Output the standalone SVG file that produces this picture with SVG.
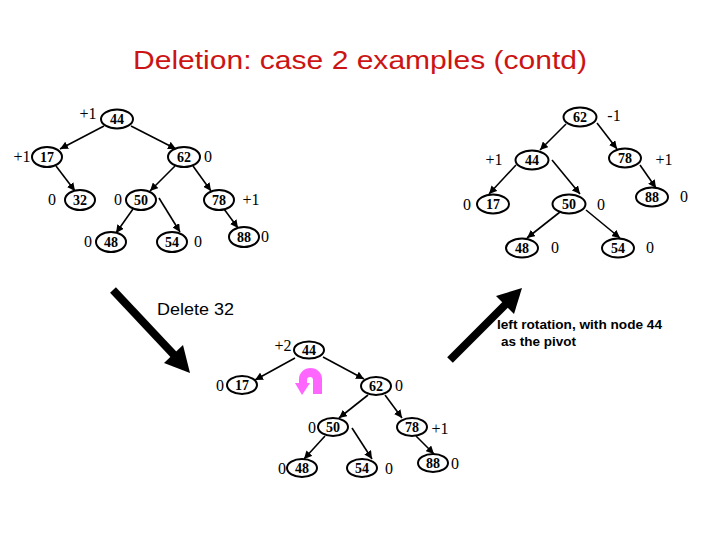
<svg xmlns="http://www.w3.org/2000/svg" width="720" height="540" viewBox="0 0 720 540">
<style>
.n ellipse{fill:#fff;stroke:#000;stroke-width:2}
.n text{font-family:"Liberation Serif","Times New Roman",serif;font-weight:bold;font-size:14px;text-anchor:middle}
.b{font-family:"Liberation Serif","Times New Roman",serif;font-size:16px;text-anchor:middle;fill:#000}
.e line{stroke:#000;stroke-width:1.6}
.e line.big{stroke:#000;stroke-width:8}
</style>
<defs>
<marker id="ah" markerUnits="userSpaceOnUse" markerWidth="9" markerHeight="8" refX="8" refY="4" orient="auto">
<path d="M0,0 L8,4 L0,8 Z" fill="#000"/>
</marker>
</defs>
<rect width="720" height="540" fill="#fff"/>
<text x="360" y="69" font-family="Liberation Sans,Arial,sans-serif" font-size="26.5" fill="#cc1414" text-anchor="middle" textLength="454" lengthAdjust="spacingAndGlyphs">Deletion: case 2 examples (contd)</text>

<!-- connectors -->
<g id="connectors" class="e">
<!-- top-left tree -->
<line x1="104" y1="126" x2="60" y2="149" marker-end="url(#ah)"/>
<line x1="131" y1="126" x2="176" y2="149" marker-end="url(#ah)"/>
<line x1="56" y1="166" x2="75" y2="191" marker-end="url(#ah)"/>
<line x1="175" y1="166" x2="150" y2="191" marker-end="url(#ah)"/>
<line x1="193" y1="166" x2="211" y2="191" marker-end="url(#ah)"/>
<line x1="133" y1="209" x2="116" y2="233" marker-end="url(#ah)"/>
<line x1="159" y1="198" x2="180" y2="232" marker-end="url(#ah)"/>
<line x1="224" y1="209" x2="238" y2="228" marker-end="url(#ah)"/>
<!-- top-right tree -->
<line x1="566" y1="124" x2="540" y2="150" marker-end="url(#ah)"/>
<line x1="597" y1="123" x2="617" y2="149" marker-end="url(#ah)"/>
<line x1="516" y1="165" x2="489" y2="194" marker-end="url(#ah)"/>
<line x1="552" y1="160" x2="580" y2="194" marker-end="url(#ah)"/>
<line x1="640" y1="165" x2="656" y2="188" marker-end="url(#ah)"/>
<line x1="560" y1="212" x2="527" y2="238" marker-end="url(#ah)"/>
<line x1="586" y1="210" x2="620" y2="238" marker-end="url(#ah)"/>
<!-- bottom tree -->
<line x1="295" y1="358" x2="255" y2="380" marker-end="url(#ah)"/>
<line x1="323" y1="357" x2="364" y2="379" marker-end="url(#ah)"/>
<line x1="368" y1="395" x2="339" y2="418" marker-end="url(#ah)"/>
<line x1="385" y1="395" x2="402" y2="418" marker-end="url(#ah)"/>
<line x1="325" y1="436" x2="304" y2="459" marker-end="url(#ah)"/>
<line x1="352" y1="428" x2="372" y2="459" marker-end="url(#ah)"/>
<line x1="416" y1="436" x2="434" y2="454" marker-end="url(#ah)"/>
<!-- big arrows -->
<line class="big" x1="113" y1="290" x2="175" y2="356"/>
<polygon points="190,373 164,363 183,345" fill="#000"/>
<line class="big" x1="450" y1="360" x2="507" y2="303"/>
<polygon points="522,288 514,314 496,296" fill="#000"/>
</g>

<!-- top-left tree nodes -->
<g id="tl44" class="n"><ellipse cx="117" cy="119" rx="16" ry="9.5"/><text x="117" y="124">44</text></g>
<g id="tl17" class="n"><ellipse cx="47" cy="157" rx="15" ry="10"/><text x="47" y="162">17</text></g>
<g id="tl62" class="n"><ellipse cx="184" cy="157" rx="16" ry="10"/><text x="184" y="162">62</text></g>
<g id="tl32" class="n"><ellipse cx="80" cy="200" rx="15" ry="10"/><text x="80" y="205">32</text></g>
<g id="tl50" class="n"><ellipse cx="141" cy="200" rx="15" ry="10"/><text x="141" y="205">50</text></g>
<g id="tl78" class="n"><ellipse cx="219" cy="200" rx="15" ry="10"/><text x="219" y="205">78</text></g>
<g id="tl48" class="n"><ellipse cx="111" cy="242" rx="15" ry="10"/><text x="111" y="247">48</text></g>
<g id="tl54" class="n"><ellipse cx="172" cy="242" rx="15" ry="10"/><text x="172" y="247">54</text></g>
<g id="tl88" class="n"><ellipse cx="244" cy="237" rx="15" ry="10"/><text x="244" y="242">88</text></g>
<g id="tl-bal">
<text class="b" x="88" y="119">+1</text>
<text class="b" x="22" y="162">+1</text>
<text class="b" x="208" y="162">0</text>
<text class="b" x="52" y="205">0</text>
<text class="b" x="118" y="205">0</text>
<text class="b" x="251" y="205">+1</text>
<text class="b" x="88" y="247">0</text>
<text class="b" x="198" y="247">0</text>
<text class="b" x="265" y="242">0</text>
</g>

<!-- top-right tree nodes -->
<g id="tr62" class="n"><ellipse cx="580" cy="117" rx="16.5" ry="9.5"/><text x="580" y="122">62</text></g>
<g id="tr44" class="n"><ellipse cx="532" cy="160" rx="16.5" ry="9.5"/><text x="532" y="165">44</text></g>
<g id="tr78" class="n"><ellipse cx="625" cy="158" rx="16" ry="9.5"/><text x="625" y="163">78</text></g>
<g id="tr17" class="n"><ellipse cx="493" cy="204" rx="16" ry="9.5"/><text x="493" y="209">17</text></g>
<g id="tr50" class="n"><ellipse cx="569" cy="204" rx="16.5" ry="9.5"/><text x="569" y="209">50</text></g>
<g id="tr88" class="n"><ellipse cx="652" cy="197" rx="16" ry="9.5"/><text x="652" y="202">88</text></g>
<g id="tr48" class="n"><ellipse cx="522" cy="248" rx="16" ry="9.5"/><text x="522" y="253">48</text></g>
<g id="tr54" class="n"><ellipse cx="618" cy="248" rx="16" ry="9.5"/><text x="618" y="253">54</text></g>
<g id="tr-bal">
<text class="b" x="614" y="121">-1</text>
<text class="b" x="494" y="165">+1</text>
<text class="b" x="664" y="165">+1</text>
<text class="b" x="467" y="210">0</text>
<text class="b" x="601" y="210">0</text>
<text class="b" x="684" y="202">0</text>
<text class="b" x="555" y="253">0</text>
<text class="b" x="650" y="253">0</text>
</g>

<!-- bottom tree nodes -->
<g id="bt44" class="n"><ellipse cx="309" cy="350" rx="15" ry="8.5"/><text x="309" y="355">44</text></g>
<g id="bt17" class="n"><ellipse cx="242" cy="385" rx="15" ry="9"/><text x="242" y="390">17</text></g>
<g id="bt62" class="n"><ellipse cx="376" cy="386" rx="15" ry="9"/><text x="376" y="391">62</text></g>
<g id="bt50" class="n"><ellipse cx="333" cy="427" rx="15" ry="9"/><text x="333" y="432">50</text></g>
<g id="bt78" class="n"><ellipse cx="412" cy="427" rx="15" ry="9"/><text x="412" y="432">78</text></g>
<g id="bt48" class="n"><ellipse cx="302" cy="468" rx="15" ry="9"/><text x="302" y="473">48</text></g>
<g id="bt54" class="n"><ellipse cx="362" cy="468" rx="15" ry="9"/><text x="362" y="473">54</text></g>
<g id="bt88" class="n"><ellipse cx="433" cy="463" rx="15" ry="9"/><text x="433" y="468">88</text></g>
<g id="bt-bal">
<text class="b" x="283" y="351">+2</text>
<text class="b" x="220" y="391">0</text>
<text class="b" x="399" y="391">0</text>
<text class="b" x="312" y="433">0</text>
<text class="b" x="440" y="434">+1</text>
<text class="b" x="282" y="474">0</text>
<text class="b" x="389" y="474">0</text>
<text class="b" x="455" y="469">0</text>
</g>

<!-- pink rotation arrow -->
<path id="rot" d="M322,394 L322,379 A11.5,11 0 0 0 299,379 L299,383 L295,383 L302,395 L310,383 L307,383 L307,380 A3,3 0 0 1 313,380 L313,394 Z" fill="#ff66ff"/>

<!-- captions -->
<text x="157" y="315" font-family="Liberation Sans,Arial,sans-serif" font-size="16.5" textLength="77" lengthAdjust="spacingAndGlyphs">Delete 32</text>
<text x="497" y="329" font-family="Liberation Sans,Arial,sans-serif" font-size="13.5" font-weight="bold" textLength="165" lengthAdjust="spacingAndGlyphs">left rotation, with node 44</text>
<text x="501" y="346" font-family="Liberation Sans,Arial,sans-serif" font-size="13.5" font-weight="bold">as the pivot</text>
</svg>
